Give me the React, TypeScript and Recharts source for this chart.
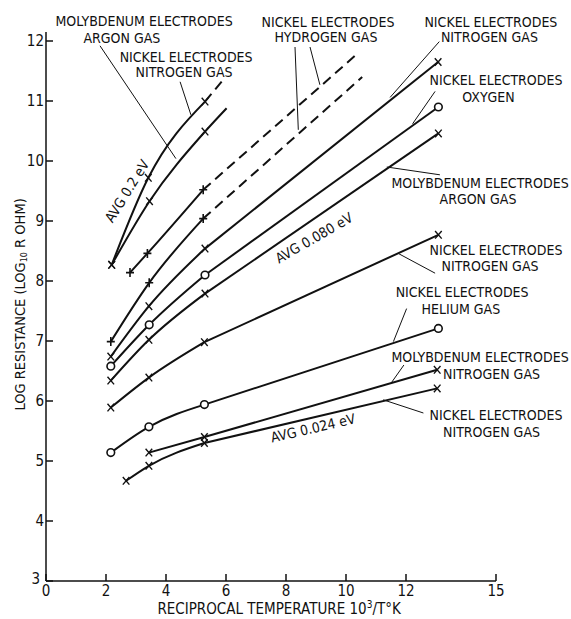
import { ComposedChart, Line, XAxis, YAxis, ReferenceLine, ReferenceDot } from 'recharts'

// reciprocal temperature (10^3/T) and log10 R
// molybdenum electrodes, argon gas (upper left curve, lower branch)
const moArAX = [2.19, 3.45, 5.3]
const moArAY = [8.27, 9.33, 10.49]
const moArATail = { x: 6.02, y: 10.88 }
// nickel electrodes, nitrogen gas (upper left curve, AVG 0.2 eV)
const niN2AX = [2.19, 3.41, 5.3]
const niN2AY = [8.27, 9.72, 10.99]
const niN2ATail = { x: 5.9, y: 11.35 }
// nickel electrodes, hydrogen gas (two runs, dashed extrapolation)
const niH2AX = [2.8, 3.38, 5.24]
const niH2AY = [8.14, 8.46, 9.52]
const niH2ATail = { x: 10.36, y: 11.78 }
const niH2BX = [2.16, 3.44, 5.24]
const niH2BY = [6.99, 7.97, 9.04]
const niH2BTail = { x: 10.54, y: 11.4 }
// nickel electrodes, nitrogen gas
const niN2BX = [2.16, 3.43, 5.3, 13.07]
const niN2BY = [6.74, 7.58, 8.54, 11.65]
// nickel electrodes, oxygen
const niO2X = [2.16, 3.44, 5.3, 13.08]
const niO2Y = [6.58, 7.27, 8.1, 10.9]
// molybdenum electrodes, argon gas (AVG 0.080 eV)
const moArBX = [2.16, 3.43, 5.3, 13.08]
const moArBY = [6.34, 7.02, 7.79, 10.46]
// nickel electrodes, nitrogen gas
const niN2CX = [2.16, 3.43, 5.28, 13.08]
const niN2CY = [5.89, 6.39, 6.98, 8.77]
// nickel electrodes, helium gas
const niHeX = [2.16, 3.43, 5.28, 13.08]
const niHeY = [5.14, 5.57, 5.94, 7.21]
// molybdenum electrodes, nitrogen gas
const moN2X = [3.43, 5.28, 13.04]
const moN2Y = [5.14, 5.4, 6.52]
// nickel electrodes, nitrogen gas (AVG 0.024 eV)
const niN2DX = [2.67, 3.43, 5.28, 13.04]
const niN2DY = [4.67, 4.92, 5.3, 6.21]

const xTicks = [0, 2, 4, 6, 8, 10, 12, 15]
const yTicks = [3, 4, 5, 6, 7, 8, 9, 10, 11, 12]

type Pt = { x: number; y: number }
type MarkerKind = 'x' | '+' | 'o'

const zip = (xs: number[], ys: number[]): Pt[] => xs.map((x, i) => ({ x, y: ys[i] }))

// straightRun: the last stretch (to the high 10^3/T end) is drawn as a straight line
type Curve = {
  id: string
  pts: Pt[]
  marker: MarkerKind
  tail?: Pt
  dashedTail?: boolean
  straightRun?: boolean
}

const curves: Curve[] = [
  { id: 'moArA', pts: zip(moArAX, moArAY), marker: 'x', tail: moArATail },
  { id: 'niN2A', pts: zip(niN2AX, niN2AY), marker: 'x', tail: niN2ATail, dashedTail: true },
  { id: 'niH2A', pts: zip(niH2AX, niH2AY), marker: '+', tail: niH2ATail, dashedTail: true },
  { id: 'niH2B', pts: zip(niH2BX, niH2BY), marker: '+', tail: niH2BTail, dashedTail: true },
  { id: 'niN2B', pts: zip(niN2BX, niN2BY), marker: 'x', straightRun: true },
  { id: 'niO2', pts: zip(niO2X, niO2Y), marker: 'o', straightRun: true },
  { id: 'moArB', pts: zip(moArBX, moArBY), marker: 'x', straightRun: true },
  { id: 'niN2C', pts: zip(niN2CX, niN2CY), marker: 'x', straightRun: true },
  { id: 'niHe', pts: zip(niHeX, niHeY), marker: 'o', straightRun: true },
  { id: 'moN2', pts: zip(moN2X, moN2Y), marker: 'x', straightRun: true },
  { id: 'niN2D', pts: zip(niN2DX, niN2DY), marker: 'x', straightRun: true },
]

// text annotations in data units: [x, y, text, angle]
const notes: [number, number, string, number][] = [
  [3.27, 12.33, 'MOLYBDENUM ELECTRODES', 0],
  [2.53, 12.05, 'ARGON GAS', 0],
  [4.67, 11.73, 'NICKEL ELECTRODES', 0],
  [4.6, 11.48, 'NITROGEN GAS', 0],
  [9.4, 12.32, 'NICKEL ELECTRODES', 0],
  [9.33, 12.07, 'HYDROGEN GAS', 0],
  [14.83, 12.32, 'NICKEL ELECTRODES', 0],
  [14.78, 12.07, 'NITROGEN GAS', 0],
  [15.0, 11.35, 'NICKEL ELECTRODES', 0],
  [14.75, 11.07, 'OXYGEN', 0],
  [14.47, 9.63, 'MOLYBDENUM ELECTRODES', 0],
  [14.4, 9.37, 'ARGON GAS', 0],
  [15.0, 8.52, 'NICKEL ELECTRODES', 0],
  [14.8, 8.25, 'NITROGEN GAS', 0],
  [13.87, 7.81, 'NICKEL ELECTRODES', 0],
  [13.83, 7.53, 'HELIUM GAS', 0],
  [14.47, 6.73, 'MOLYBDENUM ELECTRODES', 0],
  [14.85, 6.45, 'NITROGEN GAS', 0],
  [15.0, 5.76, 'NICKEL ELECTRODES', 0],
  [14.85, 5.49, 'NITROGEN GAS', 0],
  [2.7, 9.5, 'AVG 0.2 eV', -58],
  [8.93, 8.72, 'AVG 0.080 eV', -30],
  [8.9, 5.55, 'AVG 0.024 eV', -13],
]

// leader lines from labels to curves
const leaders: [number, number, number, number][] = [
  [1.8, 11.92, 4.33, 10.04],
  [4.47, 11.32, 4.83, 10.77],
  [8.3, 11.9, 8.41, 10.52],
  [8.8, 11.9, 9.13, 11.27],
  [13.11, 11.99, 11.47, 11.06],
  [12.97, 11.16, 12.22, 10.62],
  [13.13, 9.77, 11.36, 9.9],
  [12.97, 8.13, 11.74, 8.46],
  [12.02, 7.54, 11.58, 6.99],
  [11.93, 6.6, 11.52, 6.31],
  [12.58, 5.8, 11.24, 6.02],
]

const FONT = '"DejaVu Sans Condensed", "Liberation Sans Narrow", "DejaVu Sans", sans-serif'
const INK = '#111'

function Marker({ cx, cy, kind }: { cx: number; cy: number; kind: MarkerKind }) {
  if (kind === 'o') return <circle cx={cx} cy={cy} r={3.8} fill="#fff" stroke={INK} strokeWidth={1.6} />
  if (kind === '+')
    return (
      <path d={`M${cx - 4},${cy}H${cx + 4}M${cx},${cy - 4.5}V${cy + 4.5}`} stroke={INK} strokeWidth={1.6} />
    )
  return (
    <path
      d={`M${cx - 3.3},${cy - 3.8}L${cx + 3.3},${cy + 3.8}M${cx + 3.3},${cy - 3.8}L${cx - 3.3},${cy + 3.8}`}
      stroke={INK}
      strokeWidth={1.4}
    />
  )
}

function YTick(p: any) {
  const v = p.payload.value
  // the bottom label sits a little left and up, clear of the x-axis "0"
  const dx = v === 3 ? -4 : 0
  const dy = v === 3 ? -2 : 0
  return (
    <text
      x={p.x + dx}
      y={p.y + dy}
      textAnchor="end"
      dominantBaseline="central"
      fontFamily={FONT}
      fontSize={15}
      fill={INK}
    >
      {v}
    </text>
  )
}

export default function App() {
  return (
    <div style={{ position: 'absolute', left: 0, top: 0, background: '#fff' }}>
      <ComposedChart width={571} height={619} margin={{ top: 32, right: 75, bottom: 0, left: 0 }}>
        <XAxis
          type="number"
          dataKey="x"
          domain={[0, 15]}
          ticks={xTicks}
          interval={0}
          height={38}
          stroke={INK}
          strokeWidth={1.5}
          tickSize={-7}
          tickMargin={11}
          tick={{ fill: INK, fontSize: 15, fontFamily: FONT }}
        />
        <YAxis
          type="number"
          dataKey="y"
          domain={[3, 12.15]}
          ticks={yTicks}
          interval={0}
          width={46}
          stroke={INK}
          strokeWidth={1.5}
          tickSize={-7}
          tickMargin={9}
          tick={YTick}
        />
        {curves.map((c) => {
          const curved = c.straightRun
            ? c.pts.slice(0, -1)
            : c.tail && !c.dashedTail
              ? [...c.pts, c.tail]
              : c.pts
          return (
            <Line
              key={c.id}
              data={curved}
              dataKey="y"
              type="monotone"
              stroke={INK}
              strokeWidth={2}
              isAnimationActive={false}
              dot={(p: any) =>
                p.index < c.pts.length ? (
                  <Marker key={`${c.id}-${p.index}`} cx={p.cx} cy={p.cy} kind={c.marker} />
                ) : (
                  <g key={`${c.id}-${p.index}`} />
                )
              }
              activeDot={false}
            />
          )
        })}
        {curves
          .filter((c) => c.straightRun)
          .map((c) => (
            <Line
              key={`${c.id}-run`}
              data={c.pts.slice(-2)}
              dataKey="y"
              type="linear"
              stroke={INK}
              strokeWidth={2}
              isAnimationActive={false}
              dot={(p: any) =>
                p.index === 1 ? (
                  <Marker key={`${c.id}-end`} cx={p.cx} cy={p.cy} kind={c.marker} />
                ) : (
                  <g key={`${c.id}-start`} />
                )
              }
              activeDot={false}
            />
          ))}
        {curves
          .filter((c) => c.tail && c.dashedTail)
          .map((c) => (
            <Line
              key={`${c.id}-tail`}
              data={[c.pts[c.pts.length - 1], c.tail as Pt]}
              dataKey="y"
              type="linear"
              stroke={INK}
              strokeWidth={2}
              strokeDasharray="10 6"
              dot={false}
              activeDot={false}
              isAnimationActive={false}
            />
          ))}
        {leaders.map(([x1, y1, x2, y2], i) => (
          <ReferenceLine
            key={`l${i}`}
            segment={[
              { x: x1, y: y1 },
              { x: x2, y: y2 },
            ]}
            stroke={INK}
            strokeWidth={1}
            ifOverflow="visible"
          />
        ))}
        {notes.map(([x, y, text, angle], i) => (
          <ReferenceDot
            key={`n${i}`}
            x={x}
            y={y}
            r={0}
            ifOverflow="visible"
            shape={(p: any) => (
              <text
                x={p.cx}
                y={p.cy}
                textAnchor="middle"
                dominantBaseline="central"
                fontFamily={FONT}
                fontSize={14}
                fill={INK}
                transform={angle ? `rotate(${angle} ${p.cx} ${p.cy})` : undefined}
              >
                {text}
              </text>
            )}
          />
        ))}
        <ReferenceDot
          x={-0.87}
          y={7.61}
          r={0}
          ifOverflow="visible"
          shape={(p: any) => (
            <text
              x={p.cx}
              y={p.cy}
              textAnchor="middle"
              dominantBaseline="central"
              fontFamily={FONT}
              fontSize={14.5}
              fill={INK}
              transform={`rotate(-90 ${p.cx} ${p.cy})`}
            >
              LOG RESISTANCE (LOG
              <tspan fontSize={9} dy={4}>
                10
              </tspan>
              <tspan dy={-4}> R OHM)</tspan>
            </text>
          )}
        />
        <ReferenceDot
          x={7.77}
          y={2.53}
          r={0}
          ifOverflow="visible"
          shape={(p: any) => (
            <text
              x={p.cx}
              y={p.cy}
              textAnchor="middle"
              dominantBaseline="central"
              fontFamily={FONT}
              fontSize={15}
              fill={INK}
            >
              RECIPROCAL TEMPERATURE 10
              <tspan fontSize={10} dy={-5}>
                3
              </tspan>
              <tspan dy={5}>/T°K</tspan>
            </text>
          )}
        />
      </ComposedChart>
    </div>
  )
}
